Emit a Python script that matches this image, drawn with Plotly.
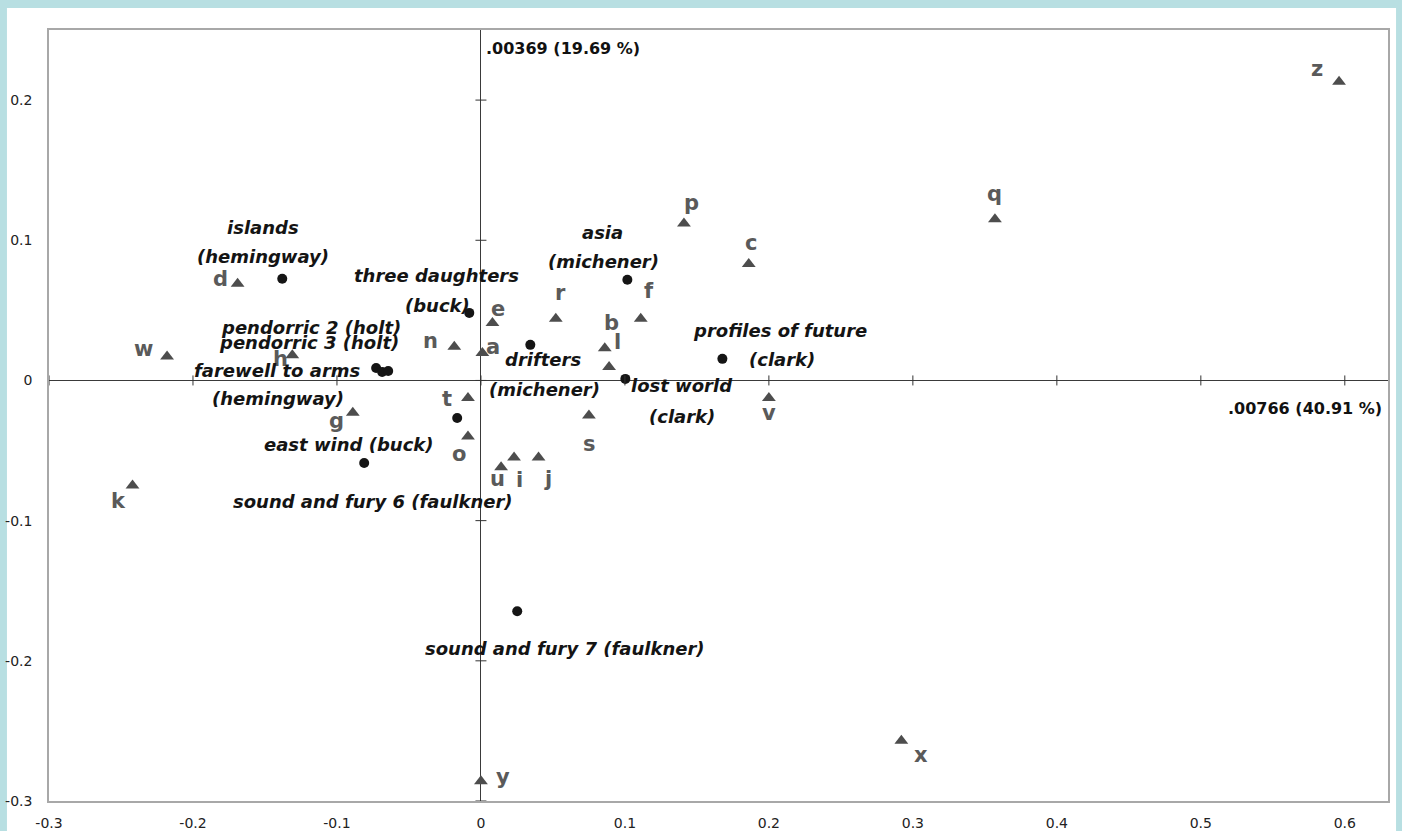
import plotly.graph_objects as go

# ---------------- data ----------------
X_TICKS = [-0.3, -0.2, -0.1, 0, 0.1, 0.2, 0.3, 0.4, 0.5, 0.6]
X_TICK_TEXT = ["-0.3", "-0.2", "-0.1", "0", "0.1", "0.2", "0.3", "0.4", "0.5", "0.6"]
Y_TICKS = [-0.3, -0.2, -0.1, 0, 0.1, 0.2]
Y_TICK_TEXT = ["-0.3", "-0.2", "-0.1", "0", "0.1", "0.2"]

AXIS1_TITLE = ".00766 (40.91 %)"
AXIS2_TITLE = ".00369 (19.69 %)"

# letters (column points, triangles)
LETTERS = ["z", "q", "p", "c", "v", "x", "y", "k", "w", "h", "g", "d", "n",
           "a", "e", "t", "o", "u", "i", "j", "r", "s", "b", "l", "f"]
LETTER_X = [0.596, 0.357, 0.141, 0.186, 0.200, 0.292, 0.000, -0.242, -0.218,
            -0.131, -0.089, -0.169, -0.0185, 0.001, 0.008, -0.009, -0.009,
            0.014, 0.023, 0.040, 0.052, 0.075, 0.086, 0.089, 0.111]
LETTER_Y = [0.213, 0.115, 0.112, 0.083, -0.0125, -0.257, -0.286, -0.075, 0.017,
            0.018, -0.023, 0.069, 0.024, 0.0196, 0.041, -0.0125, -0.040,
            -0.062, -0.055, -0.055, 0.044, -0.025, 0.023, 0.0096, 0.044]

# books (row points, circles)
BOOKS = ["islands (hemingway)", "three daughters (buck)", "pendorric 2 (holt)",
         "pendorric 3 (holt)", "farewell to arms (hemingway)", "east wind (buck)",
         "sound and fury 6 (faulkner)", "drifters (michener)", "asia (michener)",
         "lost world (clark)", "profiles of future (clark)",
         "sound and fury 7 (faulkner)"]
BOOK_X = [-0.138, -0.0081, -0.0728, -0.0686, -0.0644, -0.0165, -0.0811,
          0.0343, 0.1017, 0.1003, 0.1677, 0.0252]
BOOK_Y = [0.0725, 0.0482, 0.0089, 0.0061, 0.0068, -0.0268, -0.0589,
          0.0254, 0.0718, 0.0011, 0.0154, -0.1646]

# ---------------- label placement (pixel offsets, screen y downwards) ----------------
LETTER_OFFSETS = {
    "z": (-22, -13), "q": (0, -25), "p": (8, -20), "c": (2, -21), "v": (0, 15),
    "x": (20, 14), "y": (22, -4), "k": (-14, 15), "w": (-24, -8), "h": (-12, 4),
    "g": (-16, 8), "d": (-17, -5), "n": (-24, -6), "a": (11, -6), "e": (6, -14),
    "t": (-21, 1), "o": (-9, 17), "u": (-4, 12), "i": (5, 22), "j": (9, 21),
    "r": (5, -26), "s": (1, 28), "b": (7, -25), "l": (8, -25), "f": (8, -28),
}
BOOK_SPLIT = {
    "islands (hemingway)": [(-19, -51), (-19, -22)],
    "three daughters (buck)": [(-33, -37), (-32, -7)],
    "pendorric 2 (holt)": [(-65, -40)],
    "pendorric 3 (holt)": [(-73, -29)],
    "farewell to arms (hemingway)": [(-111, 0), (-110, 28)],
    "east wind (buck)": [(-108, 26)],
    "sound and fury 6 (faulkner)": [(9, 38)],
    "drifters (michener)": [(13, 15), (14, 45)],
    "asia (michener)": [(-25, -47), (-24, -18)],
    "lost world (clark)": [(57, 7), (57, 38)],
    "profiles of future (clark)": [(58, -28), (60, 1)],
    "sound and fury 7 (faulkner)": [(48, 37)],
}

FONT = "DejaVu Sans"
BG = "#B8DFE2"

fig = go.Figure()

fig.add_trace(go.Scatter(
    x=LETTER_X, y=LETTER_Y, mode="markers", text=LETTERS, hoverinfo="text",
    marker=dict(symbol="triangle-up", size=12, color="#4d4d4d", line=dict(width=0)),
    showlegend=False, cliponaxis=False))
fig.add_trace(go.Scatter(
    x=BOOK_X, y=BOOK_Y, mode="markers", text=BOOKS, hoverinfo="text",
    marker=dict(symbol="circle", size=10, color="#151515", line=dict(width=0)),
    showlegend=False, cliponaxis=False))

for lab, x, y in zip(LETTERS, LETTER_X, LETTER_Y):
    dx, dy = LETTER_OFFSETS[lab]
    fig.add_annotation(x=x, y=y, xref="x", yref="y", text=lab, showarrow=False,
                       xshift=dx, yshift=-dy, xanchor="center", yanchor="middle",
                       font=dict(family=FONT, size=21, color="#5a5a5a", weight="bold"))

for lab, x, y in zip(BOOKS, BOOK_X, BOOK_Y):
    offs = BOOK_SPLIT[lab]
    if len(offs) == 2:
        i = lab.index(" (")
        lines = [lab[:i], lab[i + 1:]]
    else:
        lines = [lab]
    for line, (dx, dy) in zip(lines, offs):
        fig.add_annotation(x=x, y=y, xref="x", yref="y", text=line, showarrow=False,
                           xshift=dx, yshift=-dy, xanchor="center", yanchor="middle",
                           font=dict(family=FONT, size=18, color="#141414",
                                     weight="bold", style="italic"))

# axis titles
fig.add_annotation(x=0, y=1, xref="x", yref="paper", text=AXIS2_TITLE, showarrow=False,
                   xanchor="left", yanchor="top", xshift=3, yshift=-7,
                   font=dict(family=FONT, size=16, color="#111", weight="bold"))
fig.add_annotation(x=1, y=0, xref="paper", yref="y", text=AXIS1_TITLE, showarrow=False,
                   xanchor="right", yanchor="top", xshift=-4, yshift=-17,
                   font=dict(family=FONT, size=16, color="#111", weight="bold"))

# white card on cyan background
fig.add_shape(type="rect", xref="paper", yref="paper", x0=-0.0314, x1=1.006,
              y0=-0.06, y1=1.0285, fillcolor="white", line=dict(width=0), layer="below")

# cross ticks on the zero axes
for v in X_TICKS:
    fig.add_shape(type="line", xref="x", yref="y", x0=v, x1=v, ysizemode="pixel",
                  yanchor=0, y0=-5, y1=5, line=dict(color="#333", width=1))
for v in Y_TICKS:
    fig.add_shape(type="line", xref="x", yref="y", y0=v, y1=v, xsizemode="pixel",
                  xanchor=0, x0=-5.5, x1=5.5, line=dict(color="#333", width=1))

fig.update_xaxes(range=[-0.3, 0.63], tickvals=X_TICKS, ticktext=X_TICK_TEXT,
                 showgrid=False, zeroline=True, zerolinecolor="#3a3a3a", zerolinewidth=1,
                 showline=True, linecolor="#a8a8a8", linewidth=1.5, mirror=True,
                 ticks="", ticklabelstandoff=8, automargin=False,
                 tickfont=dict(family=FONT, size=14, color="#222"))
fig.update_yaxes(range=[-0.3, 0.25], tickvals=Y_TICKS, ticktext=Y_TICK_TEXT,
                 showgrid=False, zeroline=True, zerolinecolor="#3a3a3a", zerolinewidth=1,
                 showline=True, linecolor="#a8a8a8", linewidth=1.5, mirror=True,
                 ticks="", ticklabelstandoff=12, automargin=False,
                 tickfont=dict(family=FONT, size=14, color="#222"))

fig.update_layout(width=1402, height=831, autosize=False,
                  margin=dict(l=49, r=14, t=30, b=30),
                  paper_bgcolor=BG, plot_bgcolor="white", showlegend=False)

fig.write_html("out.html",
               config={"displayModeBar": False},
               post_script="document.body.style.margin='0px';"
                           "document.body.style.overflow='hidden';")
